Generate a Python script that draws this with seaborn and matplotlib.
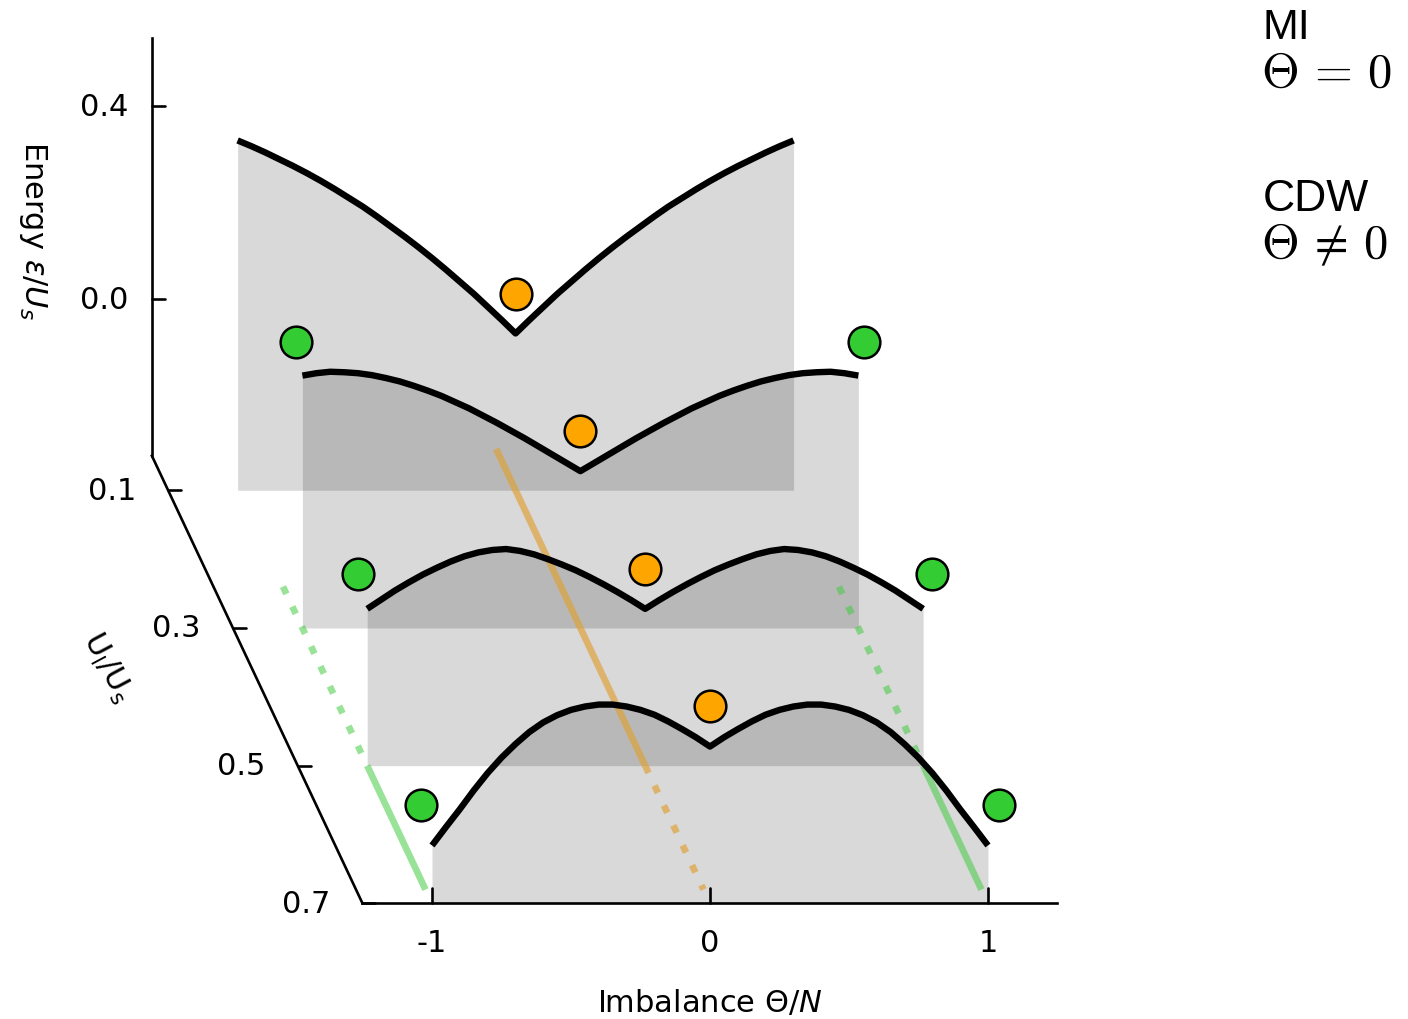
import numpy as np
import pandas as pd
import matplotlib
matplotlib.use("Agg")
import matplotlib.pyplot as plt
import seaborn as sns

# ---------------- data ----------------
theta = [-1.00, -0.95, -0.90, -0.85, -0.80, -0.75, -0.70, -0.65, -0.60, -0.55, -0.50,
         -0.45, -0.40, -0.35, -0.30, -0.25, -0.20, -0.15, -0.10, -0.05, 0.00,
         0.05, 0.10, 0.15, 0.20, 0.25, 0.30, 0.35, 0.40, 0.45, 0.50,
         0.55, 0.60, 0.65, 0.70, 0.75, 0.80, 0.85, 0.90, 0.95, 1.00]

u_levels = [0.1, 0.3, 0.5, 0.7]

energy_u01 = [0.400, 0.388, 0.375, 0.361, 0.347, 0.332, 0.316, 0.299, 0.281, 0.263, 0.243,
              0.222, 0.201, 0.179, 0.156, 0.132, 0.107, 0.082, 0.055, 0.028, 0.000,
              0.028, 0.055, 0.082, 0.107, 0.132, 0.156, 0.179, 0.201, 0.222, 0.243,
              0.263, 0.281, 0.299, 0.316, 0.332, 0.347, 0.361, 0.375, 0.388, 0.400]
energy_u03 = [0.198, 0.203, 0.206, 0.205, 0.203, 0.199, 0.193, 0.186, 0.177, 0.167, 0.156,
              0.143, 0.130, 0.115, 0.100, 0.084, 0.068, 0.051, 0.034, 0.017, 0.000,
              0.017, 0.034, 0.051, 0.068, 0.084, 0.100, 0.115, 0.130, 0.143, 0.156,
              0.167, 0.177, 0.186, 0.193, 0.199, 0.203, 0.205, 0.206, 0.203, 0.198]
energy_u05 = [0.000, 0.019, 0.038, 0.055, 0.071, 0.085, 0.098, 0.109, 0.117, 0.122, 0.124,
              0.120, 0.113, 0.103, 0.092, 0.080, 0.066, 0.051, 0.035, 0.018, 0.000,
              0.018, 0.035, 0.051, 0.066, 0.080, 0.092, 0.103, 0.113, 0.120, 0.124,
              0.122, 0.117, 0.109, 0.098, 0.085, 0.071, 0.055, 0.038, 0.019, 0.000]
energy_u07 = [-0.205, -0.167, -0.130, -0.091, -0.055, -0.023, 0.005, 0.030, 0.050, 0.065, 0.076,
              0.083, 0.087, 0.087, 0.083, 0.076, 0.066, 0.052, 0.036, 0.019, 0.000,
              0.019, 0.036, 0.052, 0.066, 0.076, 0.083, 0.087, 0.087, 0.083, 0.076,
              0.065, 0.050, 0.030, 0.005, -0.023, -0.055, -0.091, -0.130, -0.167, -0.205]
energies = [energy_u01, energy_u03, energy_u05, energy_u07]

# MI state markers (orange, Theta = 0)
mi_u = [0.1, 0.3, 0.5, 0.7]
mi_theta = [0.0, 0.0, 0.0, 0.0]
mi_energy = [0.082, 0.083, 0.082, 0.084]

# CDW state markers (green, Theta != 0)
cdw_u = [0.3, 0.3, 0.5, 0.5, 0.7, 0.7]
cdw_theta = [-1.023, 1.020, -1.033, 1.033, -1.04, 1.04]
cdw_energy = [0.268, 0.268, 0.072, 0.072, -0.121, -0.121]

# phase boundary lines on the floor (theta, U start, U end)
mi_line_theta = 0.0
mi_line_solid_u = [0.04, 0.50]
mi_line_dotted_u = [0.50, 0.68]
cdw_line_theta = [-1.0, 1.0]
cdw_line_dotted_u = [0.24, 0.50]
cdw_line_solid_u = [0.50, 0.68]

energy_ticks = [0.0, 0.4]
energy_ticklabels = ["0.0", "0.4"]
u_ticks = [0.1, 0.3, 0.5, 0.7]
u_ticklabels = ["0.1", "0.3", "0.5", "0.7"]
theta_ticks = [-1, 0, 1]
theta_ticklabels = ["-1", "0", "1"]

# ---------------- pseudo-3D projection ----------------
U_FRONT, U_BACK = 0.7, 0.05
SHIFT_X, SHIFT_Y = 1.1655, 1.427
E_FLOOR, E_TOP = -0.325, 0.54
THETA_MIN, THETA_MAX = -1.25, 1.25


def proj(t, u, e):
    t = np.asarray(t, float)
    u = np.asarray(u, float)
    e = np.asarray(e, float)
    return t - SHIFT_X * (U_FRONT - u), e - SHIFT_Y * (u - U_BACK)


sns.set_theme(style="white")
plt.rcParams["font.family"] = ["DejaVu Sans"]
plt.rcParams["text.color"] = "black"

fig = plt.figure(figsize=(14.08, 10.20), dpi=100)
ax = fig.add_axes([0, 0, 1, 1])
ax.set_xlim(-2.554, 2.511)
ax.set_ylim(-1.4922, 0.6218)
ax.set_axis_off()

PX_X = 1 / 278.0   # one pixel in x data units
PX_Y = 1 / 482.5   # one pixel in y data units

# panels: shaded area under each curve + curve
for u, en in zip(u_levels, energies):
    X, Y = proj(theta, np.full(len(theta), u), en)
    _, Yf = proj(theta, np.full(len(theta), u), np.full(len(theta), E_FLOOR))
    ax.fill_between(X, Y, Yf, color="black", alpha=0.15, lw=0, zorder=1)
    df = pd.DataFrame({"X": X, "Y": Y})
    sns.lineplot(data=df, x="X", y="Y", sort=False, estimator=None, color="black",
                 lw=4.6, ax=ax, zorder=4, solid_capstyle="butt", solid_joinstyle="round")

# phase boundary lines on floor
dot_style = (0, (1.2, 2.1))
X, Y = proj([mi_line_theta] * 2, mi_line_solid_u, [E_FLOOR] * 2)
ax.plot(X, Y, color="#e0a030", alpha=0.65, lw=4.8, zorder=3, solid_capstyle="butt")
X, Y = proj([mi_line_theta] * 2, mi_line_dotted_u, [E_FLOOR] * 2)
ax.plot(X, Y, color="#e0a030", alpha=0.65, lw=4.8, zorder=3, linestyle=dot_style)
for t in cdw_line_theta:
    X, Y = proj([t] * 2, cdw_line_dotted_u, [E_FLOOR] * 2)
    ax.plot(X, Y, color="#44cc44", alpha=0.55, lw=4.8, zorder=3, linestyle=dot_style)
    X, Y = proj([t] * 2, cdw_line_solid_u, [E_FLOOR] * 2)
    ax.plot(X, Y, color="#44cc44", alpha=0.55, lw=4.8, zorder=3, solid_capstyle="butt")

# state markers
X, Y = proj(mi_theta, mi_u, mi_energy)
sns.scatterplot(x=X, y=Y, s=520, color="#ffa500", edgecolor="black", linewidth=1.8,
                ax=ax, zorder=6, legend=False)
X, Y = proj(cdw_theta, cdw_u, cdw_energy)
sns.scatterplot(x=X, y=Y, s=520, color="#33cc33", edgecolor="black", linewidth=1.8,
                ax=ax, zorder=6, legend=False)

# axes lines
axis_kw = dict(color="black", lw=1.9, zorder=7, solid_capstyle="projecting")
X, Y = proj([THETA_MIN, THETA_MIN], [U_BACK, U_BACK], [E_FLOOR, E_TOP])
ax.plot(X, Y, **axis_kw)
X, Y = proj([THETA_MIN, THETA_MIN], [U_BACK, U_FRONT], [E_FLOOR, E_FLOOR])
ax.plot(X, Y, **axis_kw)
X, Y = proj([THETA_MIN, THETA_MAX], [U_FRONT, U_FRONT], [E_FLOOR, E_FLOOR])
ax.plot(X, Y, **axis_kw)

FS = 22
# energy ticks
for e, lab in zip(energy_ticks, energy_ticklabels):
    x0, y0 = proj(THETA_MIN, U_BACK, e)
    ax.plot([x0, x0 + 13 * PX_X], [y0, y0], color="black", lw=1.9, zorder=7)
    ax.text(x0 - 24 * PX_X, y0, lab, ha="right", va="center", fontsize=FS, color="black")
# U ticks
for u, lab in zip(u_ticks, u_ticklabels):
    x0, y0 = proj(THETA_MIN, u, E_FLOOR)
    ax.plot([x0, x0 + 13 * PX_X], [y0, y0], color="black", lw=1.9, zorder=7)
    ax.text(x0 - 32 * PX_X, y0, lab, ha="right", va="center", fontsize=FS, color="black")
# theta ticks
for t, lab in zip(theta_ticks, theta_ticklabels):
    x0, y0 = proj(t, U_FRONT, E_FLOOR)
    ax.plot([x0, x0], [y0, y0 + 15 * PX_Y], color="black", lw=1.9, zorder=7)
    ax.text(x0, y0 - 39 * PX_Y, lab, ha="center", va="center", fontsize=FS, color="black")

# axis labels
ax.text((33 - 710) * PX_X, (300 - 230) * PX_Y, r"Energy $\varepsilon/U_s$", rotation=-90,
        ha="center", va="center", fontsize=FS, rotation_mode="anchor", color="black")
ax.text((107 - 710) * PX_X, (300 - 668) * PX_Y, r"U$_\mathregular{l}$/U$_\mathregular{s}$",
        rotation=-62, ha="center", va="center", fontsize=FS, rotation_mode="anchor",
        color="black")
ax.text(0.0, (300 - 1003) * PX_Y, r"Imbalance $\Theta/N$", ha="center", va="center",
        fontsize=FS, color="black")

# annotations on the right
W, H = 1408.0, 1020.0
fig.text(1263 / W, 1 - 39 / H, "MI", fontsize=31, family="Liberation Sans", va="baseline",
         color="black")
fig.text(1261 / W, 1 - 87 / H, r"$\Theta\,=\,0$", fontsize=35, math_fontfamily="cm",
         va="baseline", color="black")
fig.text(1263 / W, 1 - 211 / H, "CDW", fontsize=32, family="Liberation Sans", va="baseline",
         color="black")
fig.text(1261 / W, 1 - 258 / H, r"$\Theta\,\neq\,0$", fontsize=35, math_fontfamily="cm",
         va="baseline", color="black")

fig.savefig("out.png", dpi=100, facecolor="white")
